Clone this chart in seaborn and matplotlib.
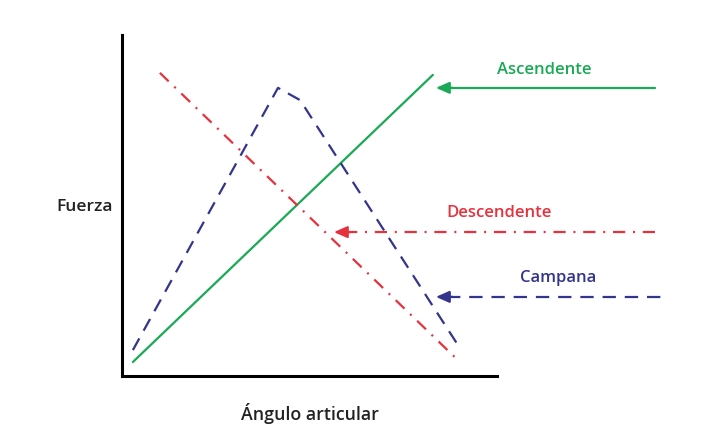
import matplotlib
matplotlib.use("Agg")
import matplotlib.pyplot as plt
import seaborn as sns
import pandas as pd

# ---- data (axis units 0..10) ----
asc_x = [0.29, 8.29]
asc_y = [0.41, 8.83]
desc_x = [1.01, 9.01]
desc_y = [8.89, 0.41]
camp_x = [0.29, 4.16, 4.75, 9.01]
camp_y = [0.76, 8.45, 8.09, 0.82]

labels = ["Ascendente", "Descendente", "Campana"]
# arrow heads (x, y), tails x, label positions
arrow_head_x = [8.37, 5.65, 8.37]
arrow_head_y = [8.45, 4.22, 2.32]
arrow_tail_x = [14.2, 14.2, 14.55]
label_x = [11.27, 10.05, 11.63]
label_y = [8.97, 4.78, 2.87]

green = "#1aa954"
red = "#e5323c"
blue = "#33348c"
colors = [green, red, blue]
styles = ["-", (0, (5.5, 3.5, 0.9, 3.5)), (0, (6, 4))]

sns.set_style("white")
plt.rcParams["font.family"] = ["Open Sans", "DejaVu Sans"]

fig = plt.figure(figsize=(7.15, 4.46), dpi=100)
ax = fig.add_axes([122 / 715, 1 - 376 / 446, 375 / 715, 341 / 446])

df = pd.concat([
    pd.DataFrame({"x": asc_x, "y": asc_y, "s": labels[0]}),
    pd.DataFrame({"x": desc_x, "y": desc_y, "s": labels[1]}),
    pd.DataFrame({"x": camp_x, "y": camp_y, "s": labels[2]}),
])
for lab, c, ls in zip(labels, colors, styles):
    sub = df[df["s"] == lab]
    sns.lineplot(data=sub, x="x", y="y", ax=ax, color=c, linestyle=ls,
                 lw=1.6, sort=False, estimator=None)

ax.set_xlim(0, 10)
ax.set_ylim(0, 10)
ax.set_xticks([])
ax.set_yticks([])
ax.set_xlabel("")
ax.set_ylabel("")
for s in ["top", "right"]:
    ax.spines[s].set_visible(False)
for s in ["left", "bottom"]:
    ax.spines[s].set_color("black")
    ax.spines[s].set_linewidth(2.2)

for i in range(3):
    hx, hy, tx = arrow_head_x[i], arrow_head_y[i], arrow_tail_x[i]
    ax.plot([hx + 0.3, tx], [hy, hy], color=colors[i], linestyle=styles[i],
            lw=1.6, clip_on=False)
    ax.annotate("", xy=(hx, hy), xytext=(hx + 0.45, hy),
                arrowprops=dict(arrowstyle="-|>,head_length=0.8,head_width=0.35",
                                color=colors[i], lw=1.6, shrinkA=0, shrinkB=0),
                annotation_clip=False)
    ax.text(label_x[i], label_y[i], labels[i], color=colors[i], fontsize=12,
            fontweight="semibold", ha="center", va="center", clip_on=False)

fig.text(85 / 715, 1 - 207 / 446, "Fuerza", fontsize=12.5, fontweight="semibold",
         ha="center", va="center", color="#222222")
fig.text(310 / 715, 1 - 413 / 446, "Ángulo articular", fontsize=12.8,
         fontweight="semibold", ha="center", va="center", color="#222222")

fig.savefig("out.png", dpi=100, facecolor="white")
